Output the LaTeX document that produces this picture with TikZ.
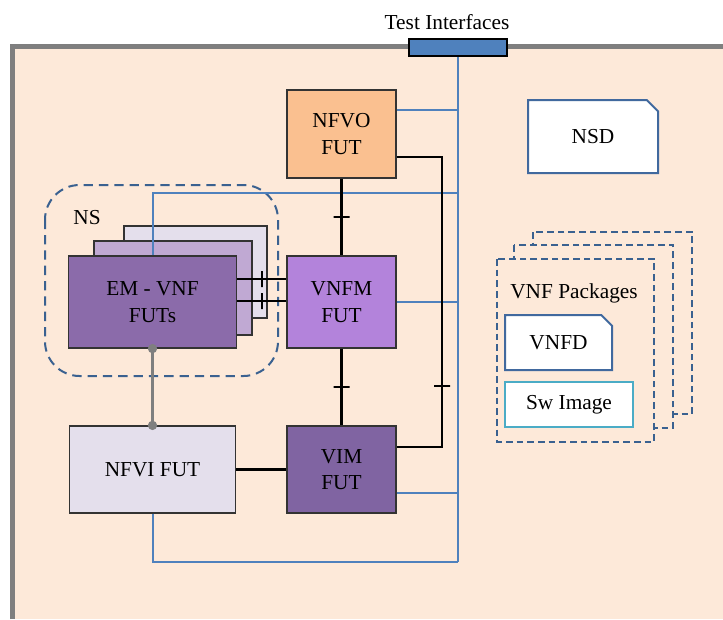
\documentclass[tikz,border=0pt]{standalone}
\usepackage{fontspec}
\setmainfont{Liberation Serif}
\usetikzlibrary{positioning,shapes.misc}

\definecolor{bgpeach}{HTML}{FDE9D9}
\definecolor{frame}{HTML}{7F7F7F}
\definecolor{tiblue}{HTML}{4F81BD}
\definecolor{dashblue}{HTML}{3A6190}
\definecolor{docblue}{HTML}{41699E}
\definecolor{swteal}{HTML}{4BACC6}
\definecolor{nfvocol}{HTML}{FAC090}
\definecolor{vnfmcol}{HTML}{B383DB}
\definecolor{vimcol}{HTML}{8064A2}
\definecolor{emcol}{HTML}{8B6BAA}
\definecolor{emmid}{HTML}{C0A9D3}
\definecolor{lilac}{HTML}{E4DFEC}

\tikzset{
  wh/.style 2 args={minimum width=#1*0.75pt, minimum height=#2*0.75pt},
  fut/.style={draw=black!80, line width=0.9pt, align=center, inner sep=0pt},
  sig/.style={black, line width=2pt},
  ti/.style={tiblue, line width=1.5pt},
  tick/.style={sloped, draw, line width=1.5pt, minimum width=0pt, minimum height=12pt, inner sep=0pt},
  pkg/.style={draw=dashblue, fill=bgpeach, line width=1.5pt, dash pattern=on 5pt off 3pt},
  doc/.style={chamfered rectangle, chamfered rectangle corners=north east, chamfered rectangle xsep=6.5pt,
    draw=docblue, fill=white, line width=1.5pt, inner sep=0pt}
}

\begin{document}
\begin{tikzpicture}[x=0.75pt, y=-0.75pt, font=\fontsize{16}{20}\selectfont]
\useasboundingbox (0,0) rectangle (723,619);

% test bed frame
\fill[bgpeach] (12,46) rectangle (723,619);
\draw[frame, line width=3.75pt] (12,619) -- (12,46) -- (723,46);

% network service
\draw[dashblue, line width=1.5pt, dash pattern=on 7pt off 4.5pt, rounded corners=26pt] (45,185) rectangle (278,376);
\node (nslabel) at (87,218) {NS};
\node[fut, fill=lilac, wh={143}{92}] (emback) at (195.5,272) {};
\node[fut, fill=emmid, wh={158}{94}] (emmidbox) at (173,288) {};
\node[fut, fill=emcol, wh={168}{92}] (em) at (152.5,302) {EM - VNF\\FUTs};

% function under test boxes
\node[fut, fill=nfvocol, wh={109}{88}] (nfvo) at (341.5,134) {NFVO\\FUT};
\node[fut, fill=vnfmcol, wh={109}{92}] (vnfm) at (341.5,302) {VNFM\\FUT};
\node[fut, fill=vimcol, wh={109}{87}] (vim) at (341.5,469.5) {VIM\\FUT};
\node[fut, fill=lilac, wh={166}{87}] (nfvi) at (152.5,469.5) {NFVI FUT};

% test interfaces
\coordinate (busend) at (458,562);
\coordinate (loop) at (442,157);
\draw[ti] (458,56) -- (busend);
\node[draw=black, fill=tiblue, line width=1.5pt, wh={98}{17}, inner sep=0pt] (bar) at (458,47.5) {};
\node (tilabel) at (447,22) {Test Interfaces};
\draw[ti] (nfvo.east |- 0,110) -- (busend |- 0,110);
\draw[ti] (em.north) |- (busend |- 0,193);
\draw[ti] (vnfm.east) -- (busend |- vnfm.east);
\draw[ti] (vim.east |- 0,493) -- (busend |- 0,493);
\draw[ti] (nfvi.south) |- (busend);

% reference points
\draw[sig] (nfvo) -- node[tick]{} (vnfm);
\draw[sig] (vnfm) -- node[tick]{} (vim);
\draw[sig] (em.east |- 0,279) -- node[tick]{} (vnfm.west |- 0,279);
\draw[sig] (em.east |- 0,301) -- node[tick]{} (vnfm.west |- 0,301);
\draw[sig] (nfvi) -- (vim);
\draw[sig] (nfvo.east |- loop) -- (loop) -- node[tick, pos=0.79]{} (loop |- 0,447) -- (vim.east |- 0,447);
\draw[frame, line width=2pt] (em.south) -- (nfvi.north);
\fill[frame] (em.south) circle (3.5pt) (nfvi.north) circle (3.5pt);

% descriptors
\node[doc, wh={130}{73}] (nsd) at (593,136.5) {NSD};
\draw[pkg] (533,232) rectangle (692,414);
\draw[pkg] (514,245) rectangle (673,428);
\draw[pkg] (497,259) rectangle (654,442);
\node (pkglabel) at (574,293) {VNF Packages};
\node[doc, chamfered rectangle xsep=5pt, wh={107}{55}] (vnfd) at (558.5,342.5) {VNFD};
\node[draw=swteal, fill=white, line width=1.5pt, inner sep=0pt, wh={128}{45}] (swimg) at (569,404.5) {Sw Image};
\end{tikzpicture}
\end{document}
